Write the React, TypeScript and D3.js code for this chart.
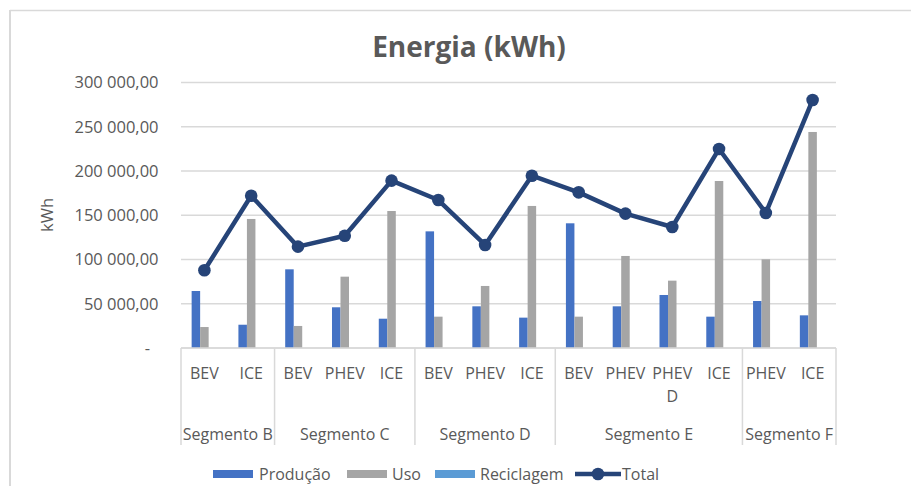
import React from "react";
import * as d3 from "d3";

const segments = ["Segmento B", "Segmento C", "Segmento D", "Segmento E", "Segmento F"];
const categories = [
  { seg: "Segmento B", name: "BEV" },
  { seg: "Segmento B", name: "ICE" },
  { seg: "Segmento C", name: "BEV" },
  { seg: "Segmento C", name: "PHEV" },
  { seg: "Segmento C", name: "ICE" },
  { seg: "Segmento D", name: "BEV" },
  { seg: "Segmento D", name: "PHEV" },
  { seg: "Segmento D", name: "ICE" },
  { seg: "Segmento E", name: "BEV" },
  { seg: "Segmento E", name: "PHEV" },
  { seg: "Segmento E", name: "PHEV D" },
  { seg: "Segmento E", name: "ICE" },
  { seg: "Segmento F", name: "PHEV" },
  { seg: "Segmento F", name: "ICE" },
];
const producao = [64400, 26300, 88900, 46000, 33100, 131800, 47100, 34300, 140900, 47100, 59900, 35400, 53100, 36900];
const uso = [23700, 145800, 24900, 80600, 154800, 35400, 70100, 160500, 35400, 104000, 76100, 188700, 100200, 244100];
const reciclagem = [0, 0, 0, 0, 0, 0, 0, 0, 0, 0, 0, 0, 0, 0];
const total = [87800, 172100, 114500, 126900, 189100, 167200, 116400, 194700, 175900, 151800, 136700, 224900, 152600, 280200];
const yTicks = [0, 50000, 100000, 150000, 200000, 250000, 300000];
const legendLabels = ["Produção", "Uso", "Reciclagem", "Total"];

const W = 911;
const H = 486;
const plot = { left: 181, right: 836, top: 82.5, bottom: 348 };
const FONT = "'Open Sans', 'Noto Sans', sans-serif";
const TXT = "#595959";
const GRID = "#D9D9D9";
const colors = { prod: "#4472C4", uso: "#A5A5A5", rec: "#5B9BD5", total: "#264478" };

const fmt = (v: number) => {
  if (v === 0) return "-";
  const s = d3.format(",.2f")(v);
  return s.replace(/,/g, " ").replace(".", ",");
};

export default function App() {
  const x = d3
    .scaleBand<number>()
    .domain(categories.map((_, i) => i))
    .range([plot.left, plot.right])
    .paddingInner(0)
    .paddingOuter(0);
  const y = d3.scaleLinear().domain([0, 300000]).range([plot.bottom, plot.top]);
  const bw = x.bandwidth();
  const barW = bw / 5.5;
  const groupStart = (i: number) => (x(i) as number) + bw / 2 - (3 * barW) / 2;
  const series = [
    { key: "prod", vals: producao, color: colors.prod },
    { key: "uso", vals: uso, color: colors.uso },
    { key: "rec", vals: reciclagem, color: colors.rec },
  ];
  const line = d3
    .line<number>()
    .x((_, i) => (x(i) as number) + bw / 2)
    .y((d) => y(d));

  const segBounds = segments.map((s) => {
    const idx = categories.map((c, i) => (c.seg === s ? i : -1)).filter((i) => i >= 0);
    const x0 = x(idx[0]) as number;
    const x1 = (x(idx[idx.length - 1]) as number) + bw;
    return { s, x0, x1 };
  });

  const legendY = 480;
  const legendItems = [
    { label: legendLabels[0], sw: 213, tx: 259, color: colors.prod, kind: "rect" },
    { label: legendLabels[1], sw: 347, tx: 392, color: colors.uso, kind: "rect" },
    { label: legendLabels[2], sw: 435, tx: 480, color: colors.rec, kind: "rect" },
    { label: legendLabels[3], sw: 575, tx: 622, color: colors.total, kind: "line" },
  ];

  return (
    <svg
      width={W}
      height={H}
      style={{ position: "absolute", left: 0, top: 0, background: "#fff" }}
      fontFamily={FONT}
    >
      <rect x={0} y={0} width={W} height={H} fill="#fff" />
      <line x1={10} y1={10.5} x2={W} y2={10.5} stroke={GRID} strokeWidth={1.5} />
      <line x1={10} y1={10} x2={10} y2={H} stroke={GRID} strokeWidth={2} />

      <text x={469} y={57} textAnchor="middle" fontSize={28} fontWeight="bold" fill={TXT}>
        Energia (kWh)
      </text>

      {yTicks.map((t) => (
        <line key={t} x1={plot.left} x2={plot.right} y1={y(t)} y2={y(t)} stroke={GRID} strokeWidth={1.5} />
      ))}
      {yTicks.map((t) => (
        <text
          key={"l" + t}
          x={t === 0 ? 150 : 158.5}
          y={y(t)}
          dy="0.36em"
          textAnchor="end"
          fontSize={16.5}
          fill={TXT}
        >
          {fmt(t)}
        </text>
      ))}
      <text transform={`translate(53,215) rotate(-90)`} textAnchor="middle" fontSize={16.5} fill={TXT}>
        kWh
      </text>

      {series.map((s, si) =>
        s.vals.map((v, i) => (
          <rect
            key={s.key + i}
            x={groupStart(i) + si * barW}
            y={Math.min(y(v), y(0))}
            width={barW}
            height={Math.abs(y(0) - y(v))}
            fill={s.color}
          />
        ))
      )}

      <path d={line(total) || ""} fill="none" stroke={colors.total} strokeWidth={4.5} strokeLinejoin="round" />
      {total.map((v, i) => (
        <circle key={"c" + i} cx={(x(i) as number) + bw / 2} cy={y(v)} r={6.3} fill={colors.total} />
      ))}

      <line x1={plot.left} x2={plot.right} y1={plot.bottom} y2={plot.bottom} stroke={GRID} strokeWidth={1.5} />
      {segBounds.map((b, i) => (
        <g key={b.s}>
          {i === 0 && <line x1={b.x0} x2={b.x0} y1={plot.bottom} y2={445} stroke={GRID} strokeWidth={1.5} />}
          <line x1={b.x1} x2={b.x1} y1={plot.bottom} y2={445} stroke={GRID} strokeWidth={1.5} />
          <text x={(b.x0 + b.x1) / 2} y={440} textAnchor="middle" fontSize={16} fill={TXT}>
            {b.s}
          </text>
        </g>
      ))}
      {categories.map((c, i) => {
        const cx = (x(i) as number) + bw / 2;
        const parts = c.name === "PHEV D" ? ["PHEV", "D"] : [c.name];
        return (
          <text key={"cat" + i} x={cx} y={379} textAnchor="middle" fontSize={16} fill={TXT}>
            {parts.map((p, k) => (
              <tspan key={k} x={cx} dy={k === 0 ? 0 : 22.5}>
                {p}
              </tspan>
            ))}
          </text>
        );
      })}

      {legendItems.map((it) => (
        <g key={it.label}>
          {it.kind === "rect" ? (
            <rect x={it.sw} y={470} width={40} height={8} fill={it.color} />
          ) : (
            <g>
              <line x1={it.sw} x2={it.sw + 46} y1={474} y2={474} stroke={it.color} strokeWidth={4.5} />
              <circle cx={it.sw + 23} cy={474} r={6.3} fill={it.color} />
            </g>
          )}
          <text x={it.tx} y={legendY} fontSize={16} fill={TXT}>
            {it.label}
          </text>
        </g>
      ))}
    </svg>
  );
}
